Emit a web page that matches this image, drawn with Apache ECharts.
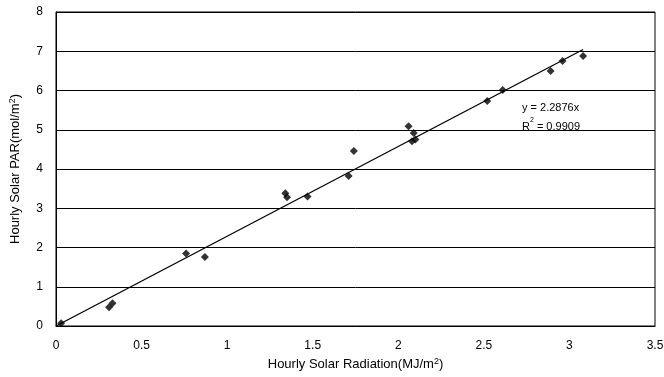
<!DOCTYPE html>
<html>
<head>
<meta charset="utf-8">
<script src="https://cdn.jsdelivr.net/npm/echarts@6/dist/echarts.min.js"></script>
<style>
  html, body { margin: 0; padding: 0; background: #fff; }
  #chart { width: 664px; height: 377px; }
</style>
</head>
<body>
<div id="chart"></div>
<script>
// measured points: hourly solar radiation (MJ/m2) vs hourly PAR (mol/m2)
const radiation = [0.03, 0.31, 0.33, 0.76, 0.87, 1.34, 1.35, 1.47, 1.71, 1.74, 2.06, 2.08, 2.09, 2.10, 2.52, 2.61, 2.89, 2.96, 3.08];
const par = [0.07, 0.48, 0.58, 1.85, 1.76, 3.38, 3.28, 3.30, 3.82, 4.46, 5.09, 4.71, 4.92, 4.75, 5.73, 6.01, 6.50, 6.75, 6.88];

// linear fit through origin
const slope = 2.2876;
const rSquared = 0.9909;
const fitRange = [0, 3.08];

const xTicks = [0, 0.5, 1, 1.5, 2, 2.5, 3, 3.5];
const yTicks = [0, 1, 2, 3, 4, 5, 6, 7, 8];

const chart = echarts.init(document.getElementById("chart"));

const font = "'Liberation Sans', Arial, sans-serif";
const sup = { fontSize: 9, verticalAlign: "top", padding: [0, 0, 6, 0], fontFamily: font, color: "#000" };

const option = {
  animation: false,
  backgroundColor: "#fff",
  grid: {
    left: 56, right: 9, top: 12, bottom: 51,
    outerBoundsMode: "none",
    show: true, borderColor: "#000", borderWidth: 1
  },
  xAxis: {
    type: "value",
    min: xTicks[0],
    max: xTicks[xTicks.length - 1],
    interval: 0.5,
    axisLine: { show: true, lineStyle: { color: "#000" } },
    axisTick: { show: false },
    splitLine: { show: false },
    axisLabel: { color: "#000", fontSize: 12, fontFamily: font, margin: 14 },
    name: "Hourly Solar Radiation(MJ/m{s|2})",
    nameLocation: "middle",
    nameGap: 30,
    nameTextStyle: { color: "#000", fontSize: 13, fontFamily: font, rich: { s: sup } }
  },
  yAxis: {
    type: "value",
    min: yTicks[0],
    max: yTicks[yTicks.length - 1],
    interval: 1,
    axisLine: { show: true, lineStyle: { color: "#000" } },
    axisTick: { show: false },
    splitLine: { show: true, lineStyle: { color: "#000", width: 1 } },
    axisLabel: { color: "#000", fontSize: 12, fontFamily: font, margin: 13 },
    name: "Hourly Solar PAR(mol/m{s|2})",
    nameLocation: "middle",
    nameGap: 33,
    nameTextStyle: { color: "#000", fontSize: 13, fontFamily: font, rich: { s: sup } }
  },
  graphic: [
    {
      type: "text",
      left: 522,
      top: 98,
      style: {
        text: "y = " + slope + "x\nR{s|2} = " + rSquared,
        fill: "#000",
        font: "11px " + font,
        lineHeight: 19,
        rich: { s: { fontSize: 7, verticalAlign: "top", padding: [0, 0, 5, 0], fill: "#000", fontFamily: font } }
      }
    }
  ],
  series: [
    {
      type: "line",
      data: fitRange.map((x) => [x, slope * x]),
      showSymbol: false,
      lineStyle: { color: "#000", width: 1.3 },
      z: 2
    },
    {
      type: "scatter",
      data: radiation.map((x, i) => [x, par[i]]),
      symbol: "diamond",
      symbolSize: 8,
      itemStyle: { color: "#000" },
      z: 3
    }
  ]
};

chart.setOption(option);
</script>
</body>
</html>
